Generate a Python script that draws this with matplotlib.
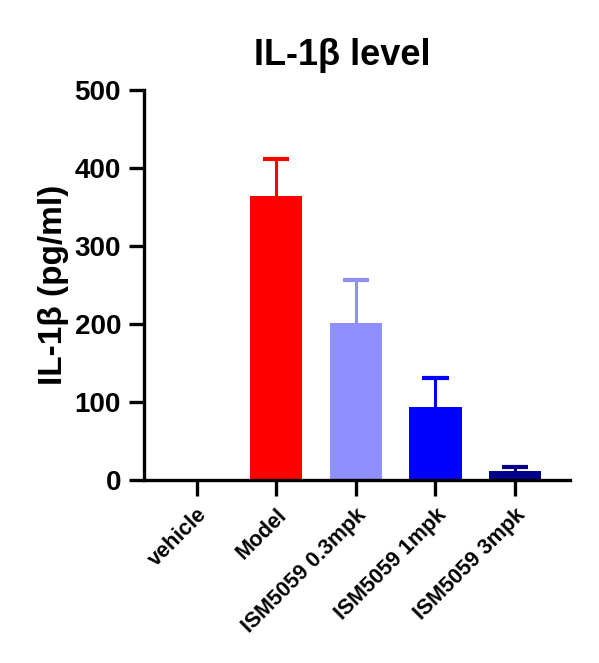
import matplotlib.pyplot as plt

groups = ['vehicle', 'Model', 'ISM5059 0.3mpk', 'ISM5059 1mpk', 'ISM5059 3mpk']
means = [0, 364, 201, 93, 12]
sd = [0, 47, 55, 38, 5]
colors = ['#808080', '#FF0000', '#8F8FFF', '#0000FF', '#00008B']

plt.rcParams['font.family'] = ['Liberation Sans', 'DejaVu Sans']
plt.rcParams['font.weight'] = 'bold'

fig = plt.figure(figsize=(5.99, 6.63), dpi=100)
ax = fig.add_axes([0.2404, 0.2760, 0.7112, 0.5882])

x = list(range(len(groups)))
ax.bar(x, means, width=0.66, color=colors, zorder=2)
# upper error bars only
for i in x:
    if sd[i] > 0:
        top = means[i] + sd[i]
        ax.vlines(i, means[i], top, color=colors[i], linewidth=2.2, zorder=1)
        ax.hlines(top, i - 0.165, i + 0.165, color=colors[i], linewidth=3, zorder=1)

ax.set_xlim(-0.66, 4.69)
ax.set_ylim(0, 500)
ax.set_yticks([0, 100, 200, 300, 400, 500])
ax.set_xticks(x)
ax.set_xticklabels(groups, rotation=45, ha='right', va='top',
                   rotation_mode='anchor', fontsize=15.5, fontweight='bold')
for lab in ax.get_yticklabels():
    lab.set_fontsize(20)
    lab.set_fontweight('bold')

for s in ['top', 'right']:
    ax.spines[s].set_visible(False)
for s in ['left', 'bottom']:
    ax.spines[s].set_linewidth(2.4)
ax.tick_params(axis='y', width=2.4, length=10.5, pad=6)
ax.tick_params(axis='x', width=2.4, length=11.5, pad=6)

ax.set_ylabel('IL-1β (pg/ml)', fontsize=24, fontweight='bold', labelpad=4)
ax.set_title('IL-1β level', fontsize=26, fontweight='bold', pad=18, x=0.465)

plt.savefig('out.png', dpi=100)
